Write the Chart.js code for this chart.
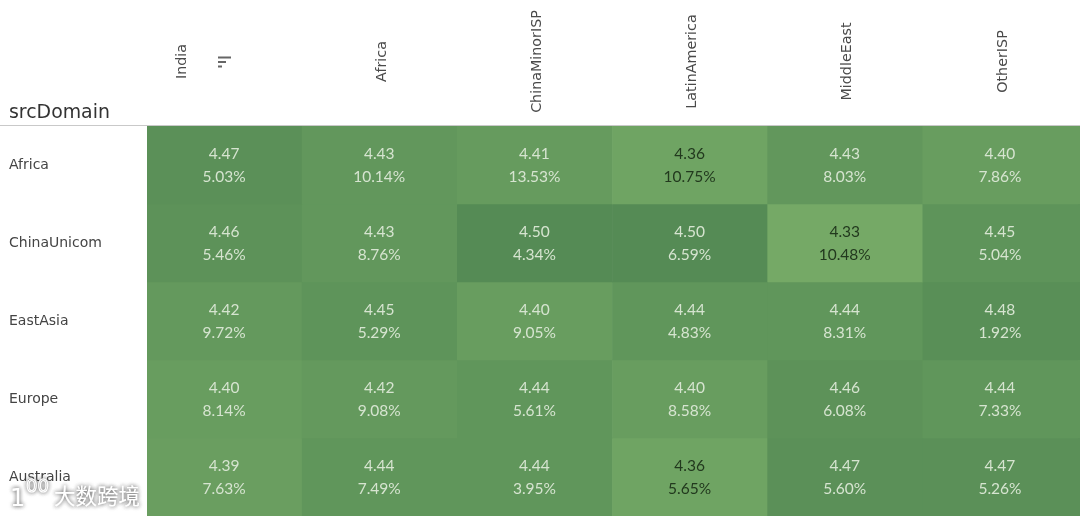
<!DOCTYPE html>
<html><head><meta charset="utf-8">
<style>html,body{margin:0;padding:0;background:#fff}canvas{display:block}</style>
<script src="https://cdn.jsdelivr.net/npm/chart.js@4"></script>
</head><body><canvas id="c" width="1080" height="516"></canvas>
<script>
const columns = ["India","Africa","ChinaMinorISP","LatinAmerica","MiddleEast","OtherISP"];
const rows = ["Africa","ChinaUnicom","EastAsia","Europe","Australia"];
const rowTitle = "srcDomain";
const watermark = "大数跨境";
const africaScore = [4.47,4.43,4.41,4.36,4.43,4.40];
const africaShare = ["5.03%","10.14%","13.53%","10.75%","8.03%","7.86%"];
const unicomScore = [4.46,4.43,4.50,4.50,4.33,4.45];
const unicomShare = ["5.46%","8.76%","4.34%","6.59%","10.48%","5.04%"];
const eastAsiaScore = [4.42,4.45,4.40,4.44,4.44,4.48];
const eastAsiaShare = ["9.72%","5.29%","9.05%","4.83%","8.31%","1.92%"];
const europeScore = [4.40,4.42,4.44,4.40,4.46,4.44];
const europeShare = ["8.14%","9.08%","5.61%","8.58%","6.08%","7.33%"];
const australiaScore = [4.39,4.44,4.44,4.36,4.47,4.47];
const australiaShare = ["7.63%","7.49%","3.95%","5.65%","5.60%","5.26%"];
const scores = [africaScore,unicomScore,eastAsiaScore,europeScore,australiaScore];
const shares = [africaShare,unicomShare,eastAsiaShare,europeShare,australiaShare];

const lo=[117,169,102], hi=[85,139,85];
function cellColor(v){
  const t=Math.max(0,Math.min(1,(v-4.33)/0.17));
  return `rgb(${lo.map((c,i)=>Math.round(c+(hi[i]-c)*t)).join(',')})`;
}
const NUM='Lato, "Noto Sans", sans-serif';
const LAB='"DejaVu Sans", sans-serif';

const overlay={id:'overlay',
  afterDatasetsDraw(chart){
    const {ctx,scales:{x,y}}=chart;
    ctx.save();
    // last column runs off the canvas edge
    scores.forEach((r,ri)=>{
      const t=y.getPixelForValue(ri), b=y.getPixelForValue(ri+1);
      ctx.fillStyle=cellColor(r[r.length-1]);
      ctx.fillRect(x.right,t,1080-x.right,b-t);
    });
    // cell text
    ctx.textAlign='center';ctx.textBaseline='middle';ctx.font='15.5px '+NUM;
    scores.forEach((r,ri)=>r.forEach((v,ci)=>{
      const px=x.getPixelForValue(ci)-0.5, py=y.getPixelForValue(ri+0.5);
      ctx.fillStyle=v<=4.36?'#22391e':'#d6e4d0';
      ctx.fillText(v.toFixed(2),px,py-11.5);
      ctx.fillText(shares[ri][ci],px,py+11.5);
    }));
    // rotated column headers
    ctx.fillStyle='#4a4a4a';ctx.font='14.3px '+LAB;
    columns.forEach((c,i)=>{
      const px=x.getPixelForValue(i)+(i===0?-42:2.5);
      ctx.save();ctx.translate(px,61.5);ctx.rotate(-Math.PI/2);ctx.fillText(c,0,0);ctx.restore();
    });
    // sort icon
    ctx.fillStyle='#666';
    ctx.fillRect(218,56.5,13,2);ctx.fillRect(218,61,8,2);ctx.fillRect(218,65.5,4,2);
    // header
    ctx.textAlign='left';ctx.textBaseline='alphabetic';
    ctx.fillStyle='#333';ctx.font='18.9px '+LAB;ctx.fillText(rowTitle,9,118);
    ctx.fillStyle='#c9c9c9';ctx.fillRect(0,125,1080,1);
    // watermark
    ctx.shadowColor='rgba(60,60,60,.6)';ctx.shadowBlur=4;
    ctx.fillStyle='#fff';ctx.strokeStyle='#fff';
    for(let k=0;k<2;k++){
      ctx.font='21.5px "Noto Sans CJK SC"';ctx.fillText(watermark,54,504);
      ctx.font='24px '+LAB;ctx.fillText('1',10,506);
      ctx.font='18px '+LAB;ctx.lineWidth=1;ctx.strokeText('00',26,492);
    }
    ctx.restore();
  }
};
new Chart(document.getElementById('c'),{
  type:'bar',
  data:{labels:columns,datasets:rows.map((name,i)=>({
    label:name,
    data:scores[i].map(()=>[i,i+1]),
    backgroundColor:scores[i].map(cellColor),
    borderWidth:0,barPercentage:1,categoryPercentage:1,grouped:false
  }))},
  options:{
    responsive:false,animation:false,devicePixelRatio:1,
    layout:{padding:{left:9,top:0,right:2,bottom:0}},
    plugins:{legend:{display:false},tooltip:{enabled:false}},
    scales:{
      x:{type:'category',position:'top',grid:{display:false},border:{display:false},
        ticks:{display:false},afterFit(s){s.height=126;}},
      y:{type:'linear',min:0,max:5,reverse:true,grid:{display:false},border:{display:false},
        afterBuildTicks(s){s.ticks=rows.map((_,i)=>({value:i+0.5}));},
        afterFit(s){s.width=138;s.paddingTop=0;s.paddingBottom=0;},
        ticks:{crossAlign:'far',padding:0,color:'#444',font:{family:LAB,size:14},
          callback(v){return rows[v-0.5];}}}
    }
  },
  plugins:[overlay]
});
</script></body></html>
